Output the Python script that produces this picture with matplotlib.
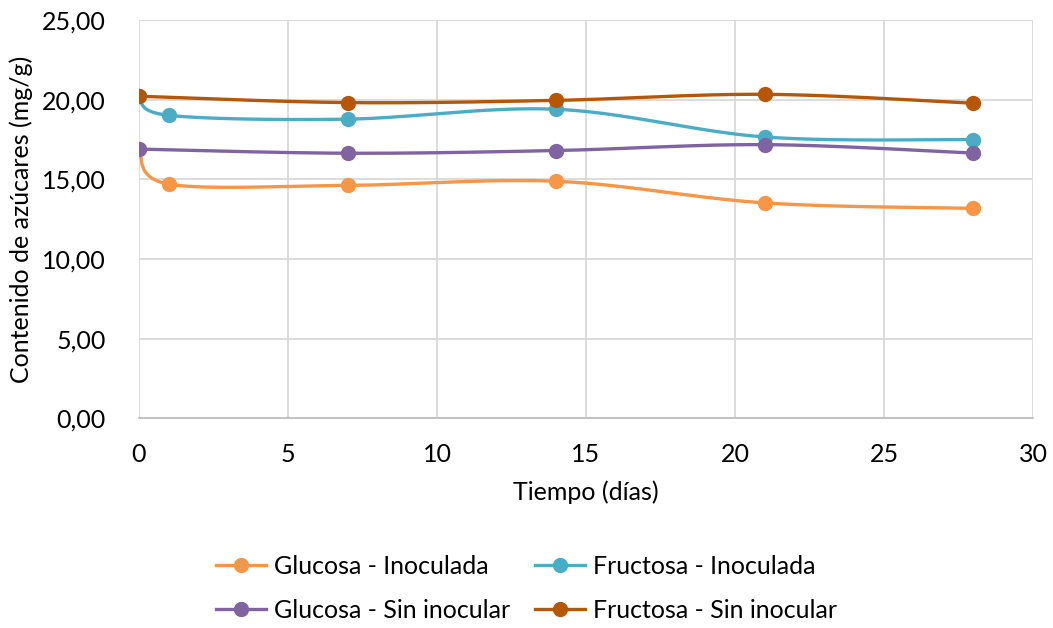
import numpy as np
import matplotlib.pyplot as plt
from matplotlib.ticker import FuncFormatter

plt.rcParams['font.family'] = ['Lato', 'DejaVu Sans']

# Sampling days and sugar content (mg/g)
dias_inoc = [0, 1, 7, 14, 21, 28]
dias_sin = [0, 7, 14, 21, 28]
glucosa_inoc = [16.90, 14.70, 14.62, 14.88, 13.52, 13.18]
fructosa_inoc = [20.22, 19.02, 18.78, 19.40, 17.66, 17.50]
glucosa_sin = [16.90, 16.64, 16.81, 17.18, 16.65]
fructosa_sin = [20.22, 19.82, 19.96, 20.34, 19.78]

series = [
    ('Glucosa - Inoculada', dias_inoc, glucosa_inoc, '#F79646'),
    ('Fructosa - Inoculada', dias_inoc, fructosa_inoc, '#4BACC6'),
    ('Glucosa - Sin inocular', dias_sin, glucosa_sin, '#8064A2'),
    ('Fructosa - Sin inocular', dias_sin, fructosa_sin, '#B65708'),
]


def smooth(x, y, n=40):
    # Catmull-Rom style Bezier curve through the points (spreadsheet "smoothed line")
    p = np.column_stack([x, y]).astype(float)
    pts = [p[0]]
    for i in range(len(p) - 1):
        p0 = p[i - 1] if i > 0 else p[i]
        p1, p2 = p[i], p[i + 1]
        p3 = p[i + 2] if i + 2 < len(p) else p[i + 1]
        c1 = p1 + (p2 - p0) / 6
        c2 = p2 - (p3 - p1) / 6
        t = np.linspace(0, 1, n)[1:, None]
        seg = ((1 - t) ** 3 * p1 + 3 * (1 - t) ** 2 * t * c1
               + 3 * (1 - t) * t ** 2 * c2 + t ** 3 * p2)
        pts.extend(seg)
    pts = np.array(pts)
    return pts[:, 0], pts[:, 1]


fig = plt.figure(figsize=(10.53, 6.28), dpi=100)
ax = fig.add_axes([0.132, 0.334, 0.849, 0.634])

handles = {}
for name, x, y, c in series:
    sx, sy = smooth(x, y)
    ax.plot(sx, sy, color=c, lw=2.4, solid_capstyle='round', zorder=3)
    ax.plot(x, y, 'o', color=c, ms=10, zorder=4)
    handles[name], = ax.plot([], [], '-o', color=c, lw=2.4, ms=10)

ax.set_xlim(0, 30)
ax.set_ylim(0, 25)
ax.set_xticks(range(0, 31, 5))
ax.set_yticks(range(0, 26, 5))
ax.yaxis.set_major_formatter(FuncFormatter(lambda v, _: f'{v:.2f}'.replace('.', ',')))
ax.grid(True, color='#D9D9D9', lw=1.3)
ax.set_axisbelow(True)
for s in ['top', 'right', 'left']:
    ax.spines[s].set_visible(False)
ax.spines['bottom'].set_color('#BFBFBF')
ax.spines['bottom'].set_linewidth(1.3)
ax.tick_params(length=0, labelsize=18, colors='#000000')
ax.tick_params(axis='y', pad=24)
ax.tick_params(axis='x', pad=18)

ax.set_xlabel('Tiempo (días)', fontsize=18, labelpad=10)
ax.set_ylabel('Contenido de azúcares (mg/g)', fontsize=18, labelpad=6)

# legend fills row by row: glucose/fructose inoculated on top
order = ['Glucosa - Inoculada', 'Glucosa - Sin inocular',
         'Fructosa - Inoculada', 'Fructosa - Sin inocular']
fig.legend([handles[k] for k in order], order, loc='center',
           bbox_to_anchor=(0.50, 0.063), ncol=2, frameon=False,
           fontsize=18, handlelength=2.0, columnspacing=1.0, labelspacing=0.85,
           handletextpad=0.3)

fig.savefig('out.png', dpi=100)
